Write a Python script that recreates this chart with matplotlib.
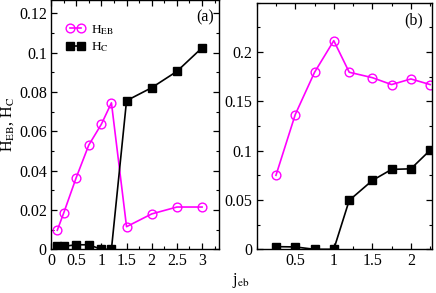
import matplotlib
matplotlib.use("Agg")
import matplotlib.pyplot as plt
from matplotlib.ticker import MultipleLocator

plt.rcParams["font.family"] = ["Liberation Serif", "DejaVu Serif"]
plt.rcParams["mathtext.fontset"] = "stix"

# panel (a)
xa = [0.125, 0.25, 0.5, 0.75, 1.0, 1.2, 1.5, 2.0, 2.5, 3.0]
heb_a = [0.0097, 0.0183, 0.0364, 0.053, 0.0636, 0.0745, 0.0115, 0.018, 0.0215, 0.0215]
hc_a = [0.0017, 0.0015, 0.0023, 0.0023, 0.0, 0.0, 0.0756, 0.0822, 0.0905, 0.1025]

# panel (b)
xb = [0.25, 0.5, 0.75, 1.0, 1.2, 1.5, 1.75, 2.0, 2.25]
heb_b = [0.075, 0.1366, 0.1794, 0.2115, 0.1795, 0.174, 0.167, 0.1727, 0.167]
hc_b = [0.0027, 0.0024, 0.0, 0.0, 0.0496, 0.0698, 0.081, 0.0816, 0.1005]

MAG = "#ff00ff"
FS = 11.5

fig = plt.figure(figsize=(4.36, 2.93), dpi=100)
ax1 = fig.add_axes([51 / 436, 1 - 249.3 / 293, (218.7 - 51) / 436, 249.3 / 293])
ax2 = fig.add_axes([256.7 / 436, 1 - 249.3 / 293, (431.7 - 256.7) / 436, (249.3 - 2.7) / 293])


def style(ax):
    ax.tick_params(which="both", direction="in", top=True, right=True, labelsize=FS, pad=3)
    ax.tick_params(which="major", length=4, width=0.9)
    ax.tick_params(which="minor", length=2.5, width=0.8)
    for s in ax.spines.values():
        s.set_linewidth(1.0)


ax1.plot(xa, heb_a, color=MAG, lw=1.2, marker="o", ms=6.3, mfc="none", mec=MAG, mew=1.0,
         label=r"H$_{\rm EB}$")
ax1.plot(xa, hc_a, color="k", lw=1.2, marker="s", ms=5.2, label=r"H$_{\rm C}$")
ax1.set_xlim(0, 3.33)
ax1.set_ylim(0, 0.1268)
ax1.xaxis.set_minor_locator(MultipleLocator(0.25))
ax1.yaxis.set_minor_locator(MultipleLocator(0.01))
ax1.set_xticks([0, 0.5, 1, 1.5, 2, 2.5, 3])
ax1.set_xticklabels(["0", "0.5", "1", "1.5", "2", "2.5", "3"])
ax1.set_yticks([0, 0.02, 0.04, 0.06, 0.08, 0.1, 0.12])
ax1.set_yticklabels(["0", "0.02", "0.04", "0.06", "0.08", "0.1", "0.12"])
style(ax1)
ax1.set_ylabel(r"H$_{\rm EB}$, H$_{\rm C}$", fontsize=FS, labelpad=2)
ax1.text(0.97, 0.93, "(a)", transform=ax1.transAxes, ha="right", va="center", fontsize=FS)
ax1.legend(loc="upper left", bbox_to_anchor=(0.06, 0.93), frameon=False, fontsize=FS - 2,
           numpoints=2, handlelength=1.4, handletextpad=0.5, borderaxespad=0,
           labelspacing=0.3)

ax2.plot(xb, heb_b, color=MAG, lw=1.2, marker="o", ms=6.3, mfc="none", mec=MAG, mew=1.0)
ax2.plot(xb, hc_b, color="k", lw=1.2, marker="s", ms=5.2)
ax2.set_xlim(0, 2.27)
ax2.set_ylim(0, 0.25)
ax2.xaxis.set_minor_locator(MultipleLocator(0.25))
ax2.yaxis.set_minor_locator(MultipleLocator(0.025))
ax2.set_xticks([0.5, 1, 1.5, 2])
ax2.set_xticklabels(["0.5", "1", "1.5", "2"])
ax2.set_yticks([0, 0.05, 0.1, 0.15, 0.2])
ax2.set_yticklabels(["0", "0.05", "0.1", "0.15", "0.2"])
style(ax2)
ax2.text(0.95, 0.93, "(b)", transform=ax2.transAxes, ha="right", va="center", fontsize=FS)

fig.text(241 / 436, 1 - 280 / 293, r"j$_{\rm eb}$", ha="center", va="center", fontsize=FS)

fig.savefig("out.png", dpi=100)
